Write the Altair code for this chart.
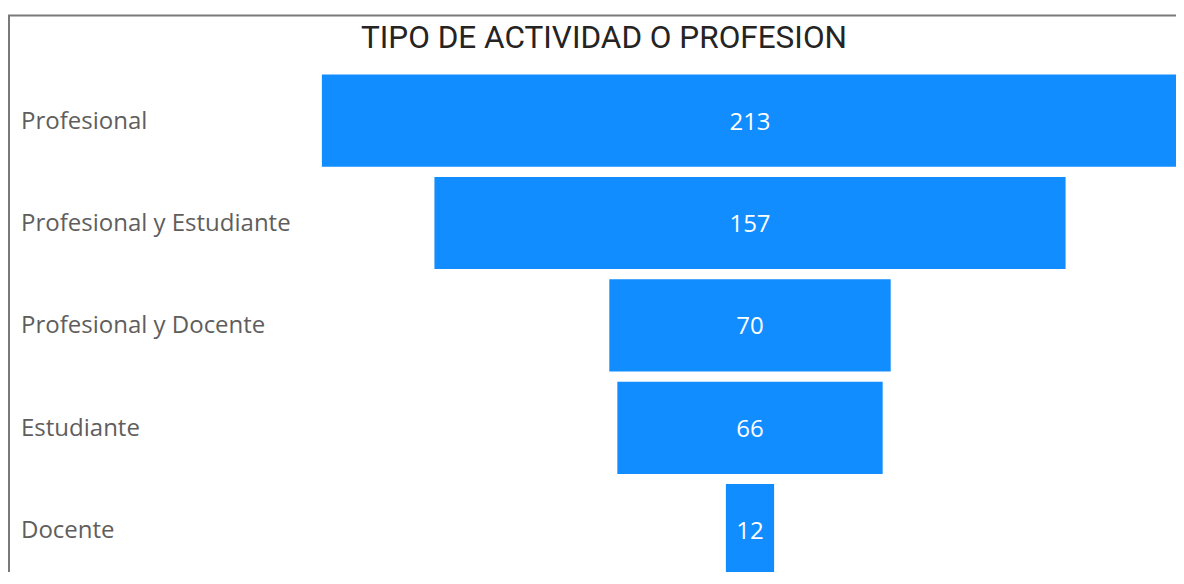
import altair as alt
import pandas as pd

categories = ["Profesional", "Profesional y Estudiante", "Profesional y Docente", "Estudiante", "Docente"]
values = [213, 157, 70, 66, 12]
title_text = "TIPO DE ACTIVIDAD O PROFESION"

df = pd.DataFrame({"cat": categories, "val": values})

W, H = 1168, 564
center_px = 742.0
ppu = 4.02
x_scale = alt.Scale(domain=[-center_px / ppu, (W - center_px) / ppu], range=[0, W], nice=False, zero=False)
y_scale = alt.Scale(range=[61.4, 573.4], paddingInner=0.1, paddingOuter=0.05)

base = alt.Chart(df).transform_calculate(x0="-datum.val/2", x1="datum.val/2")

bars = base.mark_bar(color="#118DFF").encode(
    x=alt.X("x0:Q", scale=x_scale, axis=None),
    x2="x1:Q",
    y=alt.Y("cat:N", sort=categories, scale=y_scale, axis=None),
)

vals = alt.Chart(df).mark_text(color="white", fontSize=24, font="Open Sans", baseline="middle", dy=2).encode(
    x=alt.value(center_px),
    y=alt.Y("cat:N", sort=categories, scale=y_scale, axis=None),
    text="val:Q",
)

labels = alt.Chart(df).mark_text(color="#605E5C", fontSize=24, font="Open Sans", align="left", baseline="middle", dy=1).encode(
    x=alt.value(13),
    y=alt.Y("cat:N", sort=categories, scale=y_scale, axis=None),
    text="cat:N",
)

title = alt.Chart(pd.DataFrame({"t": [title_text]})).mark_text(
    color="#252423", fontSize=31.5, font="Roboto", align="center", baseline="middle"
).encode(x=alt.value(596), y=alt.value(31), text="t:N")

border_left = alt.Chart(pd.DataFrame({"a": [0]})).mark_rule(color="#7a7a7a", strokeWidth=2).encode(
    x=alt.value(1), y=alt.value(7), y2=alt.value(H)
)
border_top = alt.Chart(pd.DataFrame({"a": [0]})).mark_rule(color="#7a7a7a", strokeWidth=2).encode(
    x=alt.value(0), x2=alt.value(W), y=alt.value(7.5)
)

chart = alt.layer(bars, vals, labels, title, border_left, border_top).properties(
    width=W, height=H, padding=0, autosize=alt.AutoSizeParams(type="none")
).configure_view(stroke=None)

chart.save("out.html", embed_options={"renderer": "svg", "actions": False})
